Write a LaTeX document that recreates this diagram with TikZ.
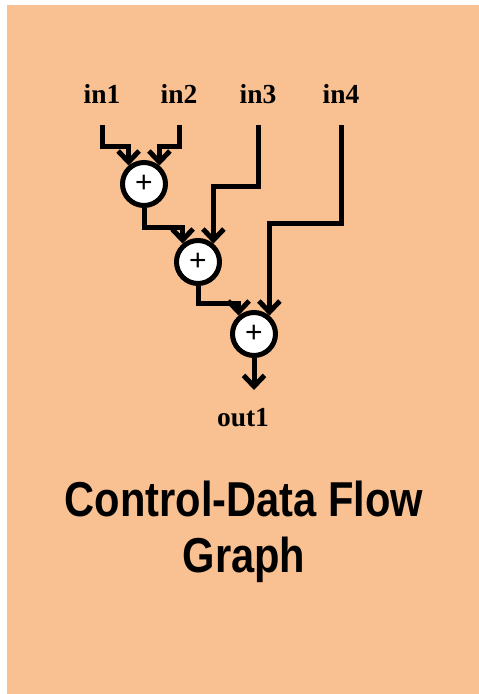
\documentclass[tikz,border=0pt]{standalone}
\usepackage{xcolor}
\usepackage{fontspec}
\usepackage{tikz}
\usetikzlibrary{arrows.meta,positioning}
\newfontfamily\labelfont{Liberation Serif}
\newfontfamily\plusfont{Liberation Sans}
\newfontfamily\titlefont[FakeStretch=0.85]{Liberation Sans}
\definecolor{panel}{HTML}{F9C092}

\begin{document}
\begin{tikzpicture}[
    x=1pt,y=1pt,
    inlabel/.style={anchor=base,inner sep=2pt,font=\labelfont\bfseries\fontsize{27.5}{30}\selectfont},
    adder/.style={circle,draw,fill=white,line width=5pt,minimum size=43pt,inner sep=0pt,font=\plusfont\fontsize{30}{30}\selectfont},
    flow/.style={-{Straight Barb[length=11pt,width=21pt]},line width=5pt}
]
\useasboundingbox (0,0) rectangle (479,-694);
\fill[panel] (7,-5) rectangle (479,-694);
\node[inlabel] (in1) at (102,-103) {in1};
\node[inlabel] (in2) at (179,-103) {in2};
\node[inlabel] (in3) at (258,-103) {in3};
\node[inlabel] (in4) at (341,-103) {in4};
\node[adder] (add1) at (144,-184) {+};
\node[adder] (add2) at (198,-262) {+};
\node[adder] (add3) at (254,-334) {+};
\node[inlabel] (out1) at (243,-426) {out1};
\draw[flow,shorten <=20pt] (in1.south) -- ++(0,-41) -| (add1.130);
\draw[flow,shorten <=20pt] (in2.south) -- ++(0,-41) -| (add1.50);
\draw[flow] (add1.south) -- ++(0,-19) -| (add2.130);
\draw[flow,shorten <=20pt] (in3.south) -- ++(0,-81) -| (add2.50);
\draw[flow] (add2.south) -- ++(0,-17) -| (add3.130);
\draw[flow,shorten <=20pt] (in4.south) -- ++(0,-118) -| (add3.50);
\draw[flow] (add3.south) -- (add3.south |- 0,-390);
\node[align=center,font=\titlefont\bfseries\fontsize{49}{56}\selectfont] (title) at (244,-532) {Control-Data Flow\\Graph};
\end{tikzpicture}
\end{document}
